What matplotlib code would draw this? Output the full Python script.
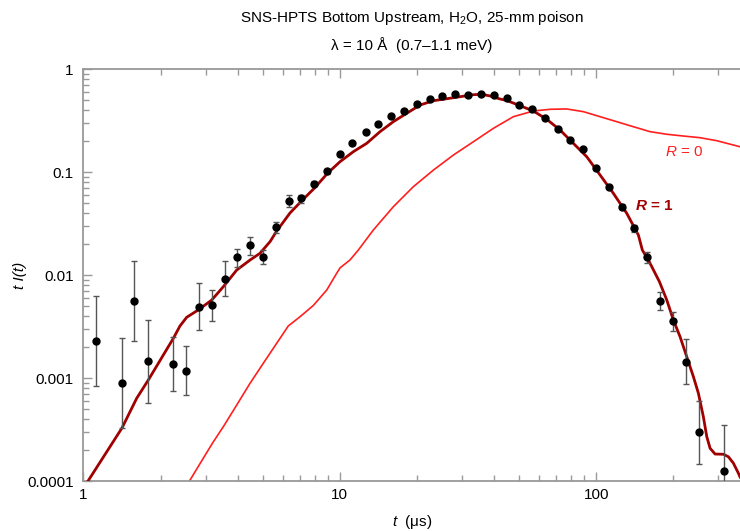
import matplotlib
matplotlib.use('Agg')
import matplotlib.pyplot as plt
from matplotlib.ticker import FixedLocator, LogLocator, NullFormatter

plt.rcParams['font.family'] = ['Liberation Sans', 'DejaVu Sans']
plt.rcParams['mathtext.fontset'] = 'custom'
plt.rcParams['mathtext.rm'] = 'Liberation Sans'
plt.rcParams['mathtext.it'] = 'Liberation Sans:italic'
plt.rcParams['mathtext.bf'] = 'Liberation Sans:bold'
plt.rcParams['mathtext.bfit'] = 'Liberation Sans:italic:bold'

DARK_RED = '#a00000'
RED = '#ff1f1f'
AXIS = '#999999'

# measured points, t in microseconds
t_data = [1.12, 1.41, 1.58, 1.78, 2.24, 2.51, 2.82, 3.16, 3.55, 3.98,
          4.47, 5.01, 5.62, 6.31, 7.08, 7.94, 8.91, 10.0, 11.2, 12.6,
          14.1, 15.8, 17.8, 20.0, 22.4, 25.1, 28.2, 31.6, 35.5, 39.8,
          44.7, 50.1, 56.2, 63.1, 70.8, 79.4, 89.1, 100, 112, 126,
          141, 158, 178, 200, 224, 251, 316]
y_data = [0.0023, 0.000906, 0.00567, 0.00147, 0.00138, 0.00119, 0.00492, 0.00515, 0.00927, 0.0149,
          0.01955, 0.01506, 0.0294, 0.0529, 0.0561, 0.0778, 0.1018, 0.151, 0.191, 0.245,
          0.294, 0.350, 0.396, 0.463, 0.511, 0.553, 0.578, 0.565, 0.580, 0.559,
          0.529, 0.452, 0.412, 0.333, 0.2645, 0.2045, 0.167, 0.111, 0.0717, 0.0464,
          0.0285, 0.0149, 0.00567, 0.0036, 0.00145, 0.000301, 0.000126]
y_lo = [0.00084, 0.000329, 0.0023, 0.000575, 0.000753, 0.000689, 0.00294, 0.0036, 0.0063, 0.01217,
        0.01585, 0.01288, 0.02593, 0.0457, 0.0503, 0.0736, 0.0973, 0.151, 0.191, 0.245,
        0.294, 0.350, 0.396, 0.463, 0.511, 0.553, 0.578, 0.565, 0.580, 0.559,
        0.529, 0.452, 0.412, 0.333, 0.2645, 0.2045, 0.167, 0.111, 0.0717, 0.044,
        0.0263, 0.01316, 0.0046, 0.00288, 0.000875, 0.000147, 0.00008]
y_hi = [0.00625, 0.00246, 0.01377, 0.00368, 0.00252, 0.002056, 0.00841, 0.0072, 0.01377, 0.0181,
        0.02338, 0.0176, 0.0331, 0.0598, 0.0606, 0.0823, 0.1065, 0.151, 0.191, 0.245,
        0.294, 0.350, 0.396, 0.463, 0.511, 0.553, 0.578, 0.565, 0.580, 0.559,
        0.529, 0.452, 0.412, 0.333, 0.2645, 0.2045, 0.167, 0.111, 0.0717, 0.0487,
        0.0308, 0.01665, 0.00685, 0.00445, 0.00239, 0.000606, 0.00035]

# model R = 1
t_r1 = [1.04, 1.413, 1.613, 1.79, 2.241, 2.379, 2.527, 2.805, 3.164, 3.512,
        3.961, 4.464, 4.883, 5.342, 5.673, 6.394, 7.12, 8.00, 8.95, 10.02,
        11.29, 12.73, 14.35, 16.17, 18.24, 20.56, 23.17, 26.13, 29.44, 33.19,
        35.78, 38.55, 42.17, 44.79, 50.48, 56.89, 64.15, 72.28, 81.47, 91.86,
        103.6, 116.7, 131.6, 146.1, 151.4, 161.3, 176.5, 188.6, 200.1, 212.5,
        225.6, 239.4, 250.5, 261.9, 270.1, 278.3, 291.0, 313.6, 328.0, 343.0,
        358.7, 364.2]
y_r1 = [1.0e-4, 3.29e-4, 6.40e-4, 9.62e-4, 2.44e-3, 3.22e-3, 3.91e-3, 4.61e-3, 5.75e-3, 7.75e-3,
        1.125e-2, 1.406e-2, 1.636e-2, 2.12e-2, 2.69e-2, 4.03e-2, 5.32e-2, 7.11e-2, 9.77e-2, 0.1268,
        0.1585, 0.191, 0.248, 0.310, 0.374, 0.450, 0.4955, 0.518, 0.542, 0.567,
        0.572, 0.551, 0.515, 0.498, 0.443, 0.3936, 0.327, 0.2575, 0.191, 0.1417,
        0.0941, 0.0625, 0.040, 0.0246, 0.0176, 0.01346, 8.67e-3, 5.75e-3, 3.68e-3, 2.53e-3,
        1.62e-3, 1.04e-3, 7.15e-4, 4.24e-4, 2.71e-4, 2.09e-4, 1.84e-4, 1.83e-4, 1.73e-4, 1.50e-4,
        1.20e-4, 1.10e-4]

# model R = 0
t_r0 = [2.587, 3.187, 3.512, 3.961, 4.464, 5.03, 5.673, 6.295, 6.993, 7.88,
        8.89, 9.72, 10.02, 10.96, 11.81, 13.51, 16.17, 19.36, 23.17, 27.73,
        33.19, 39.71, 47.53, 56.89, 66.1, 76.8, 89.2, 103.6, 120.3, 139.7,
        162.3, 188.6, 218.8, 254.1, 295.4, 364.2]
y_r0 = [1.0e-4, 2.35e-4, 3.39e-4, 5.50e-4, 8.94e-4, 1.40e-3, 2.19e-3, 3.22e-3, 3.96e-3, 5.09e-3,
        7.19e-3, 1.045e-2, 1.18e-2, 1.41e-2, 1.76e-2, 2.75e-2, 4.63e-2, 7.25e-2, 0.105, 0.147,
        0.198, 0.267, 0.3466, 0.3936, 0.409, 0.412, 0.3877, 0.3466, 0.310, 0.277,
        0.248, 0.234, 0.225, 0.2168, 0.2027, 0.177]

fig = plt.figure(figsize=(7.4, 5.31), dpi=100, facecolor='white')
ax = fig.add_axes([0.1128, 0.0936, 0.8872, 0.7759])

ax.plot(t_r0, y_r0, color=RED, linewidth=1.2, zorder=2)
ax.plot(t_r1, y_r1, color=DARK_RED, linewidth=2.0, zorder=3)

err = [[v - lo for v, lo in zip(y_data, y_lo)], [hi - v for v, hi in zip(y_data, y_hi)]]
ax.errorbar(t_data, y_data, yerr=err, fmt='o', color='black', markersize=5,
            ecolor='#555555', elinewidth=1.0, capsize=2.5, capthick=1.0, zorder=4)

ax.set_xscale('log')
ax.set_yscale('log')
ax.set_xlim(1, 364)
ax.set_ylim(1e-4, 1)

ax.text(142, 0.047, r'$\mathbfit{R}$ = 1', color=DARK_RED, fontsize=11,
        fontweight='bold', ha='left', va='center')
ax.text(185, 0.1585, r'$\it{R}$ = 0', color=RED, fontsize=11,
        ha='left', va='center')

# ticks
ax.xaxis.set_major_locator(FixedLocator([1, 10, 100]))
ax.xaxis.set_minor_locator(LogLocator(base=10, subs=range(2, 10), numticks=20))
ax.xaxis.set_minor_formatter(NullFormatter())
ax.set_xticklabels(['1', '10', '100'])
ax.yaxis.set_major_locator(FixedLocator([1e-4, 1e-3, 1e-2, 0.1, 1]))
ax.yaxis.set_minor_locator(LogLocator(base=10, subs=range(2, 10), numticks=20))
ax.yaxis.set_minor_formatter(NullFormatter())
ax.set_yticklabels(['0.0001', '0.001', '0.01', '0.1', '1'])

ax.tick_params(which='both', direction='in', top=True, right=False, color=AXIS, width=1.0,
               labelsize=11, labelcolor='black')
ax.tick_params(which='major', length=6.5)
ax.tick_params(which='minor', length=4.3)
ax.tick_params(axis='x', pad=5)
ax.tick_params(axis='y', pad=7)

for side in ['left', 'bottom', 'top']:
    ax.spines[side].set_color(AXIS)
    ax.spines[side].set_linewidth(1.3)
ax.spines['right'].set_visible(False)

ax.set_xlabel(r'$\it{t}$  (μs)', fontsize=11, labelpad=8)
ax.set_ylabel('t I(t)', fontsize=11, style='italic', labelpad=0)

fig.text(0.557, 0.966, r'SNS-HPTS Bottom Upstream, H$_2$O, 25-mm poison',
         ha='center', va='center', fontsize=11)
fig.text(0.557, 0.915, 'λ = 10 Å  (0.7–1.1 meV)', ha='center', va='center', fontsize=11)

fig.savefig('out.png', dpi=100, facecolor='white')
